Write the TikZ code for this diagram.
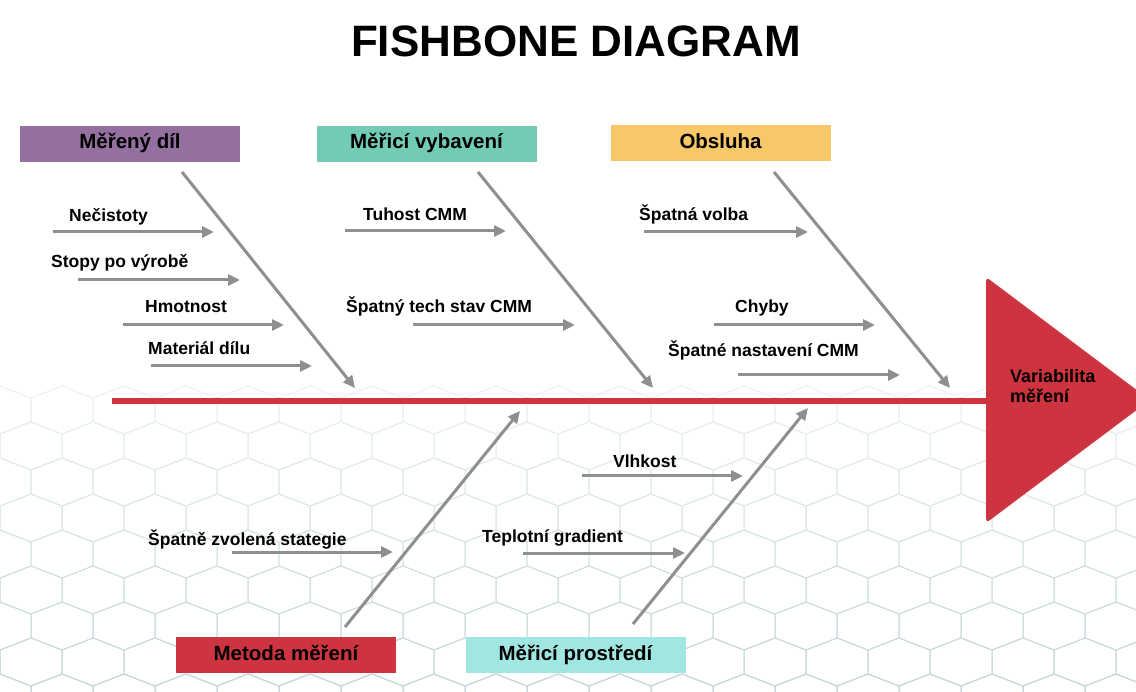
\documentclass[tikz,border=0pt]{standalone}
\usepackage{fontspec}
\setmainfont{Liberation Sans}
\usetikzlibrary{arrows.meta}
\definecolor{bonegray}{RGB}{143,143,143}
\definecolor{cred}{RGB}{206,52,63}
\definecolor{cpurple}{RGB}{147,112,160}
\definecolor{cteal}{RGB}{114,204,181}
\definecolor{corange}{RGB}{247,199,106}
\definecolor{ccyan}{RGB}{160,230,225}
\definecolor{hexc}{RGB}{196,214,218}
\tikzset{
  catbox/.style={rectangle, minimum width=220pt, minimum height=36pt, inner sep=0pt,
    font=\fontsize{20.5}{24}\selectfont\bfseries, text=black, text height=15pt, text depth=5pt},
  lbl/.style={anchor=base west, inner sep=0pt, font=\fontsize{17.5}{21}\selectfont\bfseries, text=black},
  bone/.style={draw=bonegray, line width=3pt, -{Triangle[length=12pt,width=11pt]}},
  sub/.style={draw=bonegray, line width=3pt, -{Triangle[length=12pt,width=11pt]}},
  spine/.style={draw=cred, line width=6pt},
  hexline/.style={line width=1pt, line join=round}
}
\begin{document}
\begin{tikzpicture}[x=1pt,y=-1pt]
\useasboundingbox (0,0) rectangle (1136,692);
\clip (0,0) rectangle (1136,692);
\fill[white] (0,0) rectangle (1136,692);
% background hexagon mesh
\foreach \j in {0,...,8} {
  \pgfmathsetmacro\yc{410+\j*36}
  \pgfmathtruncatemacro\pc{35+\j*8}
  \foreach \i in {-1,...,19} {
    \pgfmathsetmacro\xc{\i*62+mod(\j,2)*31}
    \draw[hexline, draw=hexc!\pc!white, shift={(\xc,\yc)}]
      (0,-24) -- (31,-12) -- (31,12) -- (0,24) -- (-31,12) -- (-31,-12) -- cycle;
  }
}
% title
\node[anchor=base, inner sep=0pt, font=\fontsize{44}{50}\selectfont\bfseries] (title) at (576,57) {FISHBONE DIAGRAM};
% head
\fill[cred, rounded corners=4pt] (986,277) -- (1150,400) -- (986,523) -- cycle;
\coordinate (hd) at (987,401);
\node[anchor=base west, inner sep=0pt, align=left, font=\fontsize{18}{20}\selectfont\bfseries] (effect) at (1010,403) {Variabilita\\měření};
% spine
\coordinate (sp0) at (112,401);
\draw[spine] (sp0) -- (hd);
% category boxes
\node[catbox, fill=cpurple] (c1) at (130,144) {Měřený díl};
\node[catbox, fill=cteal] (c2) at (426.5,144) {Měřicí vybavení};
\node[catbox, fill=corange] (c3) at (720.5,143.5) {Obsluha};
\node[catbox, fill=cred] (c4) at (286,655) {Metoda měření};
\node[catbox, fill=ccyan] (c5) at (575.5,655) {Měřicí prostředí};
% main bones
\coordinate (b1s) at (182,172); \coordinate (b1e) at (355,388);
\coordinate (b2s) at (478,172); \coordinate (b2e) at (653,388);
\coordinate (b3s) at (774,172); \coordinate (b3e) at (950,388);
\coordinate (b4s) at (345,627); \coordinate (b4e) at (520,411);
\coordinate (b5s) at (633,624); \coordinate (b5e) at (808,408);
\draw[bone] (b1s) -- (b1e);
\draw[bone] (b2s) -- (b2e);
\draw[bone] (b3s) -- (b3e);
\draw[bone] (b4s) -- (b4e);
\draw[bone] (b5s) -- (b5e);
% causes: Měřený díl
\node[lbl] (t1) at (69,222) {Nečistoty};
\coordinate (a1s) at (53,232); \coordinate (a1e) at (214,232);
\draw[sub] (a1s) -- (a1e);
\node[lbl] (t2) at (51,268) {Stopy po výrobě};
\coordinate (a2s) at (78,280); \coordinate (a2e) at (240,280);
\draw[sub] (a2s) -- (a2e);
\node[lbl] (t3) at (145,313) {Hmotnost};
\coordinate (a3s) at (123,325); \coordinate (a3e) at (284,325);
\draw[sub] (a3s) -- (a3e);
\node[lbl] (t4) at (148,355) {Materiál dílu};
\coordinate (a4s) at (151,366); \coordinate (a4e) at (312,366);
\draw[sub] (a4s) -- (a4e);
% causes: Měřicí vybavení
\node[lbl] (t5) at (363,221) {Tuhost CMM};
\coordinate (a5s) at (345,231); \coordinate (a5e) at (506,231);
\draw[sub] (a5s) -- (a5e);
\node[lbl] (t6) at (346,313) {Špatný tech stav CMM};
\coordinate (a6s) at (413,325); \coordinate (a6e) at (575,325);
\draw[sub] (a6s) -- (a6e);
% causes: Obsluha
\node[lbl] (t7) at (639,221) {Špatná volba};
\coordinate (a7s) at (644,232); \coordinate (a7e) at (808,232);
\draw[sub] (a7s) -- (a7e);
\node[lbl] (t8) at (735,313) {Chyby};
\coordinate (a8s) at (714,325); \coordinate (a8e) at (875,325);
\draw[sub] (a8s) -- (a8e);
\node[lbl] (t9) at (668,357) {Špatné nastavení CMM};
\coordinate (a9s) at (738,375); \coordinate (a9e) at (900,375);
\draw[sub] (a9s) -- (a9e);
% causes: Metoda měření
\node[lbl] (t10) at (148,546) {Špatně zvolená stategie};
\coordinate (a10s) at (232,552); \coordinate (a10e) at (393,552);
\draw[sub] (a10s) -- (a10e);
% causes: Měřicí prostředí
\node[lbl] (t11) at (613,468) {Vlhkost};
\coordinate (a11s) at (582,476); \coordinate (a11e) at (743,476);
\draw[sub] (a11s) -- (a11e);
\node[lbl] (t12) at (482,543) {Teplotní gradient};
\coordinate (a12s) at (523,553); \coordinate (a12e) at (685,553);
\draw[sub] (a12s) -- (a12e);
\end{tikzpicture}
\end{document}
